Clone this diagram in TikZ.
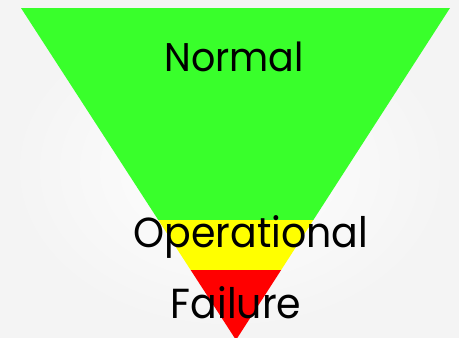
\documentclass[tikz,border=0pt]{standalone}
\usepackage{fontspec}
\setmainfont{Poppins}
\definecolor{zgreen}{RGB}{57,255,43}
\definecolor{zyellow}{RGB}{255,255,0}
\definecolor{zred}{RGB}{255,0,0}
\begin{document}
\begin{tikzpicture}[x=1pt,y=-1pt,
  lbl/.style={inner sep=0pt,anchor=base,text=black}]
\useasboundingbox (0,0) rectangle (459,338);
\shade[inner color=white,outer color=gray!9] (0,0) rectangle (459,338);
\begin{scope}
\clip (21,8) -- (450,8) -- (236,340) -- cycle;
\fill[zgreen] (0,0) rectangle (459,220);
\fill[zyellow] (0,220) rectangle (459,270);
\fill[zred] (0,270) rectangle (459,345);
\end{scope}
\node[lbl,font=\fontsize{40}{40}\selectfont] (normal) at (234,71) {\scalebox{0.95}[1]{Normal}};
\node[lbl,font=\fontsize{42}{42}\selectfont] (oper) at (251,247) {\scalebox{0.94}[1]{Operational}};
\node[lbl,font=\fontsize{42}{42}\selectfont] (fail) at (236,318) {\scalebox{0.94}[1]{Failure}};
\end{tikzpicture}
\end{document}
